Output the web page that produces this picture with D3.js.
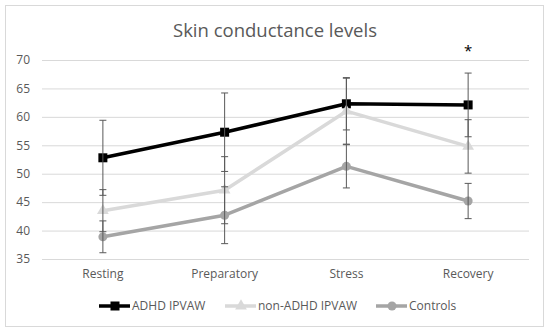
<!DOCTYPE html>
<html lang="en">

<head>
  <meta charset="utf-8">
  <title>Skin conductance levels</title>
  <script src="https://cdnjs.cloudflare.com/ajax/libs/d3/7.6.1/d3.min.js"></script>
  <style>
    body { margin: 0; background: white; }
    text { font-family: 'Open Sans', sans-serif; fill: #595959; }
  </style>
</head>

<body>

  <div id="chart"></div>

  <script>
    // data
    const phases = ['Resting', 'Preparatory', 'Stress', 'Recovery'];
    const yTicks = [35, 40, 45, 50, 55, 60, 65, 70];

    const adhdMeans = [52.8, 57.3, 62.3, 62.1];
    const adhdErrors = [6.6, 6.9, 4.6, 5.6];

    const nonAdhdMeans = [43.5, 47.1, 61.0, 54.8];
    const nonAdhdErrors = [3.7, 5.9, 5.8, 4.7];

    const controlMeans = [38.9, 42.7, 51.3, 45.2];
    const controlErrors = [2.8, 5.0, 3.8, 3.1];

    const significant = ['Recovery'];

    const series = [
      { name: 'ADHD IPVAW', means: adhdMeans, errors: adhdErrors, color: '#000000', marker: 'square' },
      { name: 'non-ADHD IPVAW', means: nonAdhdMeans, errors: nonAdhdErrors, color: '#d9d9d9', marker: 'triangle' },
      { name: 'Controls', means: controlMeans, errors: controlErrors, color: '#a5a5a5', marker: 'circle' }
    ];

    createChart('#chart', 550, 332, series);

    function createChart(elementId, width, height, series) {

      const plot = { left: 42, right: 529, top: 60, bottom: 259 };

      const svg = d3.select(elementId)
        .append('svg')
        .attr('width', width)
        .attr('height', height);

      // chart border
      svg.append('rect')
        .attr('x', 5.5).attr('y', 5.5)
        .attr('width', 538).attr('height', 321)
        .attr('fill', 'white')
        .attr('stroke', '#d9d9d9');

      // title
      svg.append('text')
        .attr('x', width / 2)
        .attr('y', 37)
        .attr('text-anchor', 'middle')
        .style('font-size', '18.5px')
        .text('Skin conductance levels');

      // scales
      const xScale = d3.scaleBand()
        .domain(phases)
        .range([plot.left, plot.right]);

      const yScale = d3.scaleLinear()
        .domain([35, 70])
        .range([plot.bottom, plot.top]);

      const cx = d => xScale(d) + xScale.bandwidth() / 2;

      // y axis with gridlines
      const yAxis = d3.axisLeft(yScale)
        .tickValues(yTicks)
        .tickSize(plot.left - plot.right)
        .tickPadding(12)
        .tickFormat(d3.format('d'));

      const yAxisGroup = svg.append('g')
        .attr('transform', `translate(${plot.left}, 0)`)
        .call(yAxis);
      yAxisGroup.select('.domain').remove();
      yAxisGroup.selectAll('line').attr('stroke', '#d9d9d9');
      yAxisGroup.selectAll('text')
        .style('font-size', '12px')
        .attr('x', -12);

      // x axis labels
      const xAxis = d3.axisBottom(xScale)
        .tickSize(0)
        .tickPadding(10);

      const xAxisGroup = svg.append('g')
        .attr('transform', `translate(0, ${plot.bottom})`)
        .call(xAxis);
      xAxisGroup.select('.domain').remove();
      xAxisGroup.selectAll('text').style('font-size', '12px');

      const line = d3.line()
        .x((d, i) => cx(phases[i]))
        .y(d => yScale(d));

      // draw series
      series.forEach(s => {
        const g = svg.append('g');

        g.append('path')
          .datum(s.means)
          .attr('d', line)
          .attr('fill', 'none')
          .attr('stroke', s.color)
          .attr('stroke-width', 3.5)
          .attr('stroke-linejoin', 'round');

        drawMarkers(g, s, s.means.map((m, i) => [cx(phases[i]), yScale(m)]));

        // error bars
        const bars = g.selectAll('.err')
          .data(s.means.map((m, i) => ({ x: cx(phases[i]), lo: m - s.errors[i], hi: m + s.errors[i] })))
          .enter()
          .append('g')
          .attr('stroke', '#595959')
          .attr('stroke-width', 1);
        bars.append('line')
          .attr('x1', d => d.x).attr('x2', d => d.x)
          .attr('y1', d => yScale(d.lo)).attr('y2', d => yScale(d.hi));
        bars.append('line')
          .attr('x1', d => d.x - 3.5).attr('x2', d => d.x + 3.5)
          .attr('y1', d => yScale(d.hi)).attr('y2', d => yScale(d.hi));
        bars.append('line')
          .attr('x1', d => d.x - 3.5).attr('x2', d => d.x + 3.5)
          .attr('y1', d => yScale(d.lo)).attr('y2', d => yScale(d.lo));
      });

      // significance asterisk
      svg.selectAll('.star')
        .data(significant)
        .enter()
        .append('text')
        .attr('x', d => cx(d))
        .attr('y', yScale(70) - 4)
        .attr('text-anchor', 'middle')
        .style('font-size', '15px')
        .style('fill', '#000')
        .text('*');

      // legend
      const legendX = [99, 225, 376];
      const legend = svg.selectAll('.legend')
        .data(series)
        .enter()
        .append('g')
        .attr('transform', (d, i) => `translate(${legendX[i]}, 306)`);

      legend.append('line')
        .attr('x1', 0).attr('x2', 31)
        .attr('stroke', d => d.color)
        .attr('stroke-width', 3.5);

      legend.each(function (d) {
        drawMarkers(d3.select(this), d, [[16, 0]]);
      });

      legend.append('text')
        .attr('x', 33)
        .attr('dy', '0.35em')
        .style('font-size', '12px')
        .text(d => d.name);
    }

    function drawMarkers(g, s, points) {
      if (s.marker === 'square') {
        g.selectAll('.m').data(points).enter().append('rect')
          .attr('x', d => d[0] - 4.5).attr('y', d => d[1] - 4.5)
          .attr('width', 9).attr('height', 9)
          .attr('fill', s.color);
      } else if (s.marker === 'triangle') {
        g.selectAll('.m').data(points).enter().append('path')
          .attr('d', d3.symbol(d3.symbolTriangle, 60))
          .attr('transform', d => `translate(${d[0]}, ${d[1]})`)
          .attr('fill', s.color);
      } else {
        g.selectAll('.m').data(points).enter().append('circle')
          .attr('cx', d => d[0]).attr('cy', d => d[1])
          .attr('r', 4.5)
          .attr('fill', s.color);
      }
    }
  </script>

</body>

</html>
